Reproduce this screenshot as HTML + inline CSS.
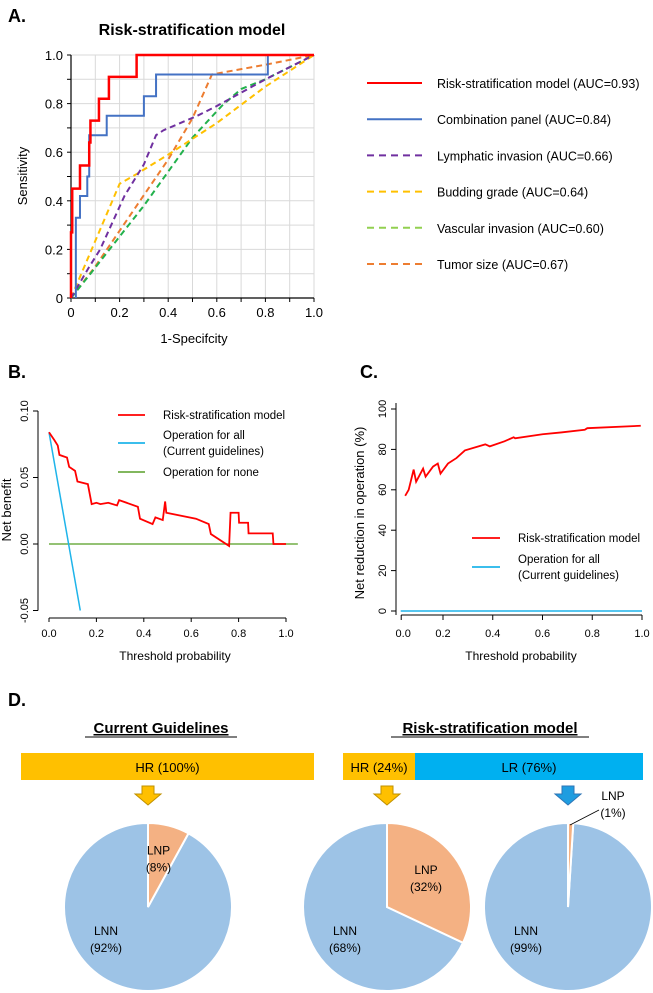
<!DOCTYPE html>
<html><head><meta charset="utf-8"><style>
html,body{margin:0;padding:0;background:#fff;}
svg{display:block;font-family:"Liberation Sans",sans-serif;}
</style></head><body>
<svg id="fig" width="653" height="993" viewBox="0 0 653 993">
<defs><clipPath id="clipD"><rect x="0" y="0" width="653" height="993"/></clipPath></defs>
<text x="8" y="22" font-size="18" font-weight="bold">A.</text>
<text x="192" y="35" font-size="16" font-weight="bold" text-anchor="middle">Risk-stratification model</text>
<g id="gA"></g>
<g id="gLegA"></g>
<text x="8" y="378" font-size="18" font-weight="bold">B.</text>
<g id="gB"></g>
<text x="360" y="378" font-size="18" font-weight="bold">C.</text>
<g id="gC"></g>
<text x="8" y="706" font-size="18" font-weight="bold">D.</text>
<text x="161" y="733" font-size="15" font-weight="bold" text-anchor="middle" text-decoration="underline">Current Guidelines</text>
<text x="490" y="733" font-size="15" font-weight="bold" text-anchor="middle" text-decoration="underline">Risk-stratification model</text>
<line x1="85" y1="737" x2="237" y2="737" stroke="#000" stroke-width="1"/>
<line x1="391" y1="737" x2="589" y2="737" stroke="#000" stroke-width="1"/>
<g id="gD"></g>
</svg>
<script>
// ---------- Panel A data ----------
const rocNames = ["Risk-stratification model (AUC=0.93)","Combination panel (AUC=0.84)","Lymphatic invasion (AUC=0.66)","Budding grade (AUC=0.64)","Vascular invasion (AUC=0.60)","Tumor size (AUC=0.67)"];
const rocColors = ["#ff0000","#4472c4","#7030a0","#ffc000","#22b14c","#ed7d31"];
const rocLegendColors = ["#ff0000","#4472c4","#7030a0","#ffc000","#92d050","#ed7d31"];
const riskFpr = [0,0,0.005,0.005,0.037,0.037,0.075,0.075,0.08,0.08,0.115,0.115,0.156,0.156,0.27,0.27,1];
const riskTpr = [0,0.27,0.27,0.45,0.45,0.545,0.545,0.64,0.64,0.73,0.73,0.82,0.82,0.91,0.91,1,1];
const combFpr = [0.02,0.02,0.037,0.037,0.067,0.067,0.075,0.075,0.147,0.147,0.30,0.30,0.35,0.35,0.81,0.81,1];
const combTpr = [0,0.33,0.33,0.42,0.42,0.5,0.5,0.67,0.67,0.75,0.75,0.83,0.83,0.92,0.92,1,1];
const lymphFpr = [0,0.07,0.12,0.22,0.30,0.35,0.38,0.52,0.60,0.80,1];
const lymphTpr = [0,0.12,0.20,0.42,0.55,0.67,0.69,0.75,0.79,0.90,1];
const budFpr = [0,0.2,0.27,0.4,0.6,0.8,1];
const budTpr = [0,0.47,0.51,0.59,0.72,0.87,1];
const vascFpr = [0,0.08,0.3,0.5,0.62,0.7,0.8,1];
const vascTpr = [0,0.1,0.38,0.66,0.79,0.86,0.9,1];
const tumorFpr = [0,0.1,0.25,0.4,0.5,0.58,0.8,1];
const tumorTpr = [0,0.13,0.35,0.57,0.74,0.92,0.96,1];
const rocTicks = [0,0.2,0.4,0.6,0.8,1.0];
const rocTickLabels = ["0","0.2","0.4","0.6","0.8","1.0"];
// ---------- Panel B data ----------
const dcaThresh = [0,0.023,0.037,0.044,0.06,0.076,0.085,0.11,0.12,0.164,0.18,0.2,0.217,0.25,0.287,0.296,0.375,0.384,0.437,0.449,0.48,0.49,0.495,0.62,0.674,0.683,0.76,0.766,0.8,0.802,0.84,0.842,0.944,0.947,1.0];
const dcaModel = [0.084,0.078,0.074,0.067,0.066,0.065,0.058,0.055,0.047,0.045,0.03,0.031,0.03,0.031,0.029,0.033,0.028,0.019,0.015,0.02,0.018,0.032,0.0235,0.019,0.015,0.0075,-0.0015,0.0235,0.0235,0.016,0.016,0.008,0.008,0,0];
const dcaAllThresh = [0,0.132];
const dcaAll = [0.084,-0.05];
const dcaNoneThresh = [0,1.05];
const dcaNone = [0,0];
const dcaYTicks = [-0.05,0,0.05,0.10];
const dcaYLabels = ["-0.05","0.00","0.05","0.10"];
const dcaXTicks = [0,0.2,0.4,0.6,0.8,1.0];
const dcaXLabels = ["0.0","0.2","0.4","0.6","0.8","1.0"];
// ---------- Panel C data ----------
const nrThresh = [0.048,0.062,0.082,0.092,0.12,0.13,0.16,0.179,0.19,0.22,0.254,0.288,0.37,0.388,0.447,0.484,0.49,0.6,0.675,0.77,0.78,0.995];
const nrModel = [57,60,70,64,70.5,66.5,71.5,73,68,73,75.7,79.5,82.5,81.5,84,86,85.5,87.5,88.4,89.7,90.5,91.7];
const nrAllThresh = [0.03,1.0];
const nrAll = [0,0];
const nrYTicks = [0,20,40,60,80,100];
const nrXTicks = [0.032,0.2,0.4,0.6,0.8,1.0];
const nrXLabels = ["0.0","0.2","0.4","0.6","0.8","1.0"];
// ---------- Panel D data ----------
const pieGroups = ["Current guidelines HR","Risk model HR","Risk model LR"];
const pieLnp = [8,32,1];
const pieLnn = [92,68,99];
const barLabels = ["HR (100%)","HR (24%)","LR (76%)"];
const riskSplit = [24,76];

const NS="http://www.w3.org/2000/svg";
function el(tag, attrs, parent, txt){const e=document.createElementNS(NS,tag);for(const k in attrs)e.setAttribute(k,attrs[k]);if(txt!==undefined)e.textContent=txt;parent.appendChild(e);return e;}
function lin(d0,d1,r0,r1){return v=>r0+(v-d0)/(d1-d0)*(r1-r0);}
function pathD(xs,ys,sx,sy){return xs.map((x,i)=>(i?"L":"M")+sx(x).toFixed(2)+","+sy(ys[i]).toFixed(2)).join(" ");}

// ---------- Panel A ----------
(function(){
const g=document.getElementById('gA');
const sx=lin(0,1,71,314), sy=lin(0,1,298,55);
for(let i=0;i<=10;i++){
  const v=i/10;
  let l=el('line',{x1:sx(v),x2:sx(v),y1:sy(0),y2:sy(1),stroke:'#d9d9d9','stroke-width':1},g);
  
  
  let h=el('line',{x1:sx(0),x2:sx(1),y1:sy(v),y2:sy(v),stroke:'#d9d9d9','stroke-width':1},g);
  
  
  let t=el('line',{x1:sx(0)-4,x2:sx(0),y1:sy(v),y2:sy(v),stroke:'#000','stroke-width':1},g);
  
  
  let t2=el('line',{x1:sx(v),x2:sx(v),y1:sy(0),y2:sy(0)+4,stroke:'#000','stroke-width':1},g);
  
  
}
let ax=el('line',{x1:sx(0),x2:sx(0),y1:sy(0),y2:sy(1),stroke:'#000','stroke-width':1.2},g);


let axx=el('line',{x1:sx(0),x2:sx(1),y1:sy(0),y2:sy(0),stroke:'#000','stroke-width':1.2},g);


rocTicks.forEach((v,i)=>{
  let a=el('text',{x:63,y:sy(v)+5,'font-size':13,'text-anchor':'end'},g,rocTickLabels[i]);
  
  
  let b=el('text',{x:sx(v),y:317,'font-size':13,'text-anchor':'middle'},g,rocTickLabels[i]);
  
  
});
let yt=el('text',{x:0,y:0,'font-size':13,'text-anchor':'middle',transform:'translate(27,176) rotate(-90)'},g,'Sensitivity');


let xt=el('text',{x:194,y:343,'font-size':13,'text-anchor':'middle'},g,'1-Specifcity');


const series=[[tumorFpr,tumorTpr,5,true,'tumor-size-curve'],[vascFpr,vascTpr,4,true,'vascular-invasion-curve'],[budFpr,budTpr,3,true,'budding-grade-curve'],[lymphFpr,lymphTpr,2,true,'lymphatic-invasion-curve'],[combFpr,combTpr,1,false,'combination-panel-curve'],[riskFpr,riskTpr,0,false,'risk-model-curve']];
series.forEach(s=>{
  const p=el('path',{d:pathD(s[0],s[1],sx,sy),fill:'none',stroke:rocColors[s[2]],'stroke-width':s[2]===0?2.5:2,'stroke-dasharray':s[3]?'6,4':'none'},g);
  
  
});
const gl=document.getElementById('gLegA');
rocNames.forEach((n,i)=>{
  const y=83+i*36.2;
  const l=el('line',{x1:367,x2:422,y1:y,y2:y,stroke:rocLegendColors[i],'stroke-width':2,'stroke-dasharray':i>1?'7,5':'none'},gl);
  
  
  const t=el('text',{x:437,y:y+5,'font-size':12.5},gl,n);
  
  
});
})();

// ---------- Panel B ----------
(function(){
const g=document.getElementById('gB');
const sx=lin(0,1,49,286), sy=lin(0,0.10,544,411);
let ya=el('line',{x1:38,x2:38,y1:sy(-0.05),y2:sy(0.10),stroke:'#000'},g);


dcaYTicks.forEach((v,i)=>{
  let t=el('line',{x1:33,x2:38,y1:sy(v),y2:sy(v),stroke:'#000'},g);
  
  
  let l=el('text',{x:0,y:0,'font-size':11,'text-anchor':'middle',transform:`translate(28,${sy(v)}) rotate(-90)`},g,dcaYLabels[i]);
  
  
});
let xa=el('line',{x1:sx(0),x2:sx(1),y1:618,y2:618,stroke:'#000'},g);


dcaXTicks.forEach((v,i)=>{
  let t=el('line',{x1:sx(v),x2:sx(v),y1:618,y2:622,stroke:'#000'},g);
  
  
  let l=el('text',{x:sx(v),y:637,'font-size':11,'text-anchor':'middle'},g,dcaXLabels[i]);
  
  
});
let yt=el('text',{x:0,y:0,'font-size':13,'text-anchor':'middle',transform:'translate(11,510) rotate(-90)'},g,'Net benefit');


let xt=el('text',{x:175,y:660,'font-size':12,'text-anchor':'middle'},g,'Threshold probability');


let gn=el('path',{d:pathD(dcaNoneThresh,dcaNone,sx,sy),stroke:'#70ad47','stroke-width':1.5,fill:'none'},g);


let ba=el('path',{d:pathD(dcaAllThresh,dcaAll,sx,sy),stroke:'#1fb4ea','stroke-width':1.5,fill:'none'},g);


let rm=el('path',{d:pathD(dcaThresh,dcaModel,sx,sy),stroke:'#ff0000','stroke-width':1.8,fill:'none'},g);


const leg=[['#ff0000',415,['Risk-stratification model']],['#1fb4ea',443,['Operation for all',' (Current guidelines)']],['#70ad47',472,['Operation for none']]];
leg.forEach(L=>{
  let s=el('line',{x1:118,x2:145,y1:L[1],y2:L[1],stroke:L[0],'stroke-width':1.8},g);
  
  
  L[2].forEach((t,j)=>{
    const y=L[2].length>1?L[1]-4+j*16:L[1]+4;
    let tx=el('text',{x:163,y:y,'font-size':11.5},g,t);
    
    
  });
});
})();

// ---------- Panel C ----------
(function(){
const g=document.getElementById('gC');
const sx=lin(0.2,1,443,642), sy=lin(0,100,611,409);
let ya=el('line',{x1:396,x2:396,y1:sy(0)+4,y2:sy(100)-6,stroke:'#000'},g);


nrYTicks.forEach(v=>{
  let t=el('line',{x1:391,x2:396,y1:sy(v),y2:sy(v),stroke:'#000'},g);
  
  
  let l=el('text',{x:0,y:0,'font-size':11,'text-anchor':'middle',transform:`translate(386,${sy(v)}) rotate(-90)`},g,String(v));
  
  
});
let xa=el('line',{x1:sx(nrXTicks[0]),x2:sx(1),y1:615,y2:615,stroke:'#000'},g);


nrXTicks.forEach((v,i)=>{
  let t=el('line',{x1:sx(v),x2:sx(v),y1:615,y2:620,stroke:'#000'},g);
  
  
  let l=el('text',{x:sx(v)+(i===0?2:0),y:637,'font-size':11,'text-anchor':'middle'},g,nrXLabels[i]);
  
  
});
let yt=el('text',{x:0,y:0,'font-size':13,'text-anchor':'middle',transform:'translate(364,513) rotate(-90)'},g,'Net reduction in operation (%)');


let xt=el('text',{x:521,y:660,'font-size':12,'text-anchor':'middle'},g,'Threshold probability');


let ba=el('path',{d:pathD(nrAllThresh,nrAll,sx,sy),stroke:'#1fb4ea','stroke-width':1.5,fill:'none'},g);


let rm=el('path',{d:pathD(nrThresh,nrModel,sx,sy),stroke:'#ff0000','stroke-width':1.8,fill:'none'},g);


const leg=[['#ff0000',538,['Risk-stratification model']],['#1fb4ea',567,['Operation for all',' (Current guidelines)']]];
leg.forEach(L=>{
  let s=el('line',{x1:472,x2:500,y1:L[1],y2:L[1],stroke:L[0],'stroke-width':1.8},g);
  
  
  L[2].forEach((t,j)=>{
    const y=L[2].length>1?L[1]-4+j*16:L[1]+4;
    let tx=el('text',{x:518,y:y,'font-size':11.5},g,t);
    
    
  });
});
})();

// ---------- Panel D ----------
(function(){
const g=document.getElementById('gD');
const x0L=21,x1L=314,x0R=343,x1R=643,yb=753,hb=27;
let b1=el('rect',{x:x0L,y:yb,width:x1L-x0L,height:hb,fill:'#ffc000'},g);


const split=x0R+(x1R-x0R)*riskSplit[0]/(riskSplit[0]+riskSplit[1]);
let b2=el('rect',{x:x0R,y:yb,width:split-x0R,height:hb,fill:'#ffc000'},g);


let b3=el('rect',{x:split,y:yb,width:x1R-split,height:hb,fill:'#00b0f0'},g);


const bl=[[(x0L+x1L)/2,barLabels[0]],[(x0R+split)/2,barLabels[1]],[(split+x1R)/2,barLabels[2]]];
bl.forEach(b=>{
  let t=el('text',{x:b[0],y:yb+19,'font-size':13,'text-anchor':'middle'},g,b[1]);
  
  
});
const centers=[148,387,568];
const arrowCols=[['#ffc000','#bf9000'],['#ffc000','#bf9000'],['#1f9de0','#2e75b6']];
centers.forEach((cx,i)=>{
  const y=786;
  const d=`M${cx-6},${y} L${cx+6},${y} L${cx+6},${y+8} L${cx+13},${y+8} L${cx},${y+19} L${cx-13},${y+8} L${cx-6},${y+8} Z`;
  let a=el('path',{d:d,fill:arrowCols[i][0],stroke:arrowCols[i][1],'stroke-width':1},g);
  
  
});
const R=84, cy=907;
centers.forEach((cx,i)=>{
  const tot=pieLnp[i]+pieLnn[i];
  const ang=pieLnp[i]/tot*2*Math.PI;
  const px=v=>cx+R*Math.sin(v), py=v=>cy-R*Math.cos(v);
  let nn=el('path',{d:`M${cx},${cy} L${px(ang)},${py(ang)} A${R},${R} 0 ${ang<Math.PI?1:0} 1 ${cx},${cy-R} Z`,fill:'#9dc3e6',stroke:'#fff','stroke-width':2},g);
  
  
  let np=el('path',{d:`M${cx},${cy} L${cx},${cy-R} A${R},${R} 0 ${ang>Math.PI?1:0} 1 ${px(ang)},${py(ang)} Z`,fill:'#f4b183',stroke:'#fff','stroke-width':2},g);
  
  
  const lx=cx-42, ly=cy+28;
  let t1=el('text',{x:lx,y:ly,'font-size':12,'text-anchor':'middle'},g,'LNN');
  
  
  let t2=el('text',{x:lx,y:ly+17,'font-size':12,'text-anchor':'middle'},g,'('+pieLnn[i]+'%)');
  
  
  let mx,my;
  if(i===2){mx=cx+45;my=cy-80;
    let ln=el('line',{x1:cx+2,x2:cx+31,y1:cy-82,y2:cy-97,stroke:'#000','stroke-width':0.8},g);
    
    
    my=cy-107;
  } else {const a2=ang/2, rr=R*0.55; mx=cx+rr*Math.sin(a2)+(i===0?-1:0); my=cy-rr*Math.cos(a2)-(i===0?8:8);}
  let t3=el('text',{x:mx,y:my,'font-size':12,'text-anchor':'middle'},g,'LNP');
  
  
  let t4=el('text',{x:mx,y:my+17,'font-size':12,'text-anchor':'middle'},g,'('+pieLnp[i]+'%)');
  
  
});
})();
</script>
</body></html>
